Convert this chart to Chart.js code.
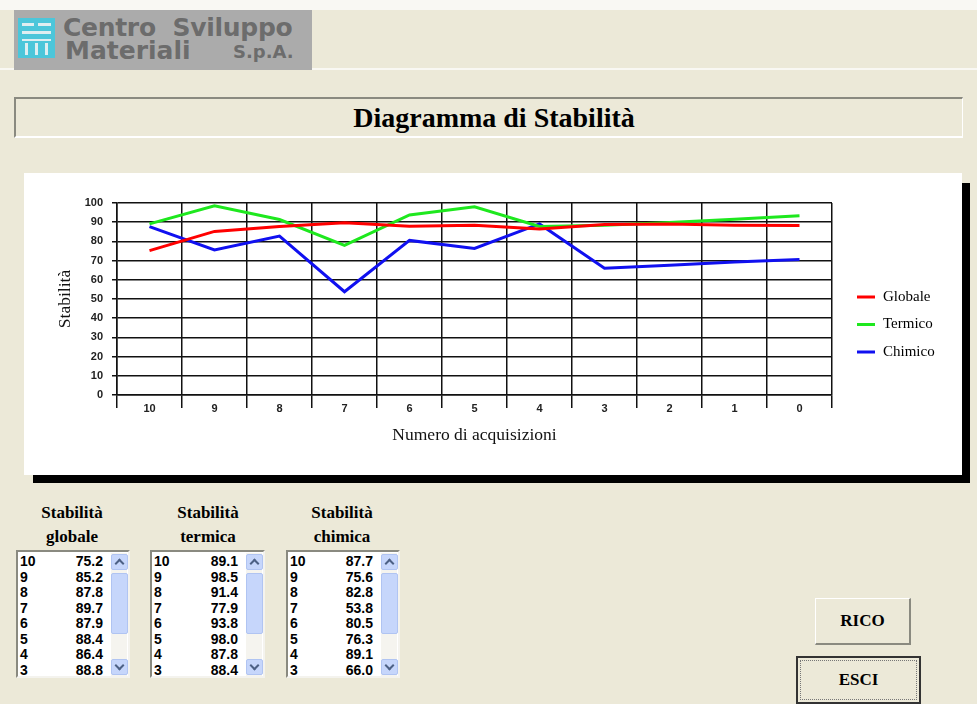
<!DOCTYPE html>
<html>
<head>
<meta charset="utf-8">
<script src="https://cdn.jsdelivr.net/npm/chart.js@4.4.1/dist/chart.umd.min.js"></script>
<style>
  body { margin: 0; width: 977px; height: 704px; background: #ece9d8; position: relative; overflow: hidden; font-family: "Liberation Serif", serif; }
  .topstrip { position: absolute; left: 0; top: 0; width: 977px; height: 10px; background: #f9f8f3; }
  .topline { position: absolute; left: 0; top: 68px; width: 977px; height: 2px; background: #f9f8f3; }
  .logo { position: absolute; left: 14px; top: 10px; width: 298px; height: 60px; background: #ababab; }
  .icon { position: absolute; left: 4px; top: 8px; width: 37px; height: 40px; background: #4cc6da; }
  .icon span { position: absolute; background: #dfeef1; }
  .logo .t1, .logo .t2, .logo .t3 { position: absolute; font-family: "DejaVu Sans", sans-serif; font-weight: bold; color: #6c6c6c; white-space: nowrap; }
  .logo .t1 { left: 49px; top: 5px; font-size: 25px; line-height: 25px; letter-spacing: -0.3px; }
  .logo .t2 { left: 51px; top: 28px; font-size: 25px; line-height: 25px; }
  .logo .t3 { left: 219px; top: 33px; font-size: 18px; line-height: 18px; }
  .titlebox { position: absolute; left: 14px; top: 97px; width: 946px; height: 37px; border-top: 2px solid #8a8a80; border-left: 2px solid #8a8a80; border-right: 1px solid #fff; border-bottom: 2px solid #fff; }
  .titlebox div { text-align: center; font-weight: bold; font-size: 28px; line-height: 37px; padding-left: 10px; }
  .shadow-r { position: absolute; left: 962px; top: 183px; width: 8px; height: 300px; background: #000; }
  .shadow-b { position: absolute; left: 33px; top: 475px; width: 937px; height: 8px; background: #000; }
  .panel { position: absolute; left: 24px; top: 173px; width: 938px; height: 302px; background: #fff; }
  .head { position: absolute; width: 130px; text-align: center; font-weight: bold; font-size: 17px; line-height: 24px; }
  .list { position: absolute; top: 550px; height: 124px; background: #fff; border: 2px solid #8a8a80; border-right-color: #f4f3ee; border-bottom-color: #f4f3ee; overflow: hidden; }
  .rows { position: absolute; left: 2px; top: 2px; }
  .row { position: relative; height: 15.5px; font-family: "Liberation Sans", Arial, sans-serif; font-weight: bold; font-size: 14px; line-height: 15.5px; }
  .row .k { position: absolute; left: 0; }
  .row .v { position: absolute; right: 0; }
  .sb { position: absolute; right: 1px; top: 1px; width: 16px; bottom: 0; background: #f5f4ef; }
  .sb .up, .sb .dn, .sb .th { position: absolute; left: 0; width: 15px; background: #c6d6fb; border: 1px solid #b0c4f2; border-radius: 2px; }
  .sb .up { top: 1px; height: 14px; }
  .sb .dn { bottom: 1px; height: 14px; }
  .sb .th { top: 20px; height: 59px; }
  .sb .up::after, .sb .dn::after { content: ""; position: absolute; left: 4px; width: 5px; height: 5px; border-left: 2px solid #4d6185; border-top: 2px solid #4d6185; }
  .sb .up::after { top: 5px; transform: rotate(45deg); }
  .sb .dn::after { top: 2px; transform: rotate(225deg); }
  .btn { position: absolute; background: #ece9d8; font-weight: bold; font-size: 17px; text-align: center; }
  .rico { left: 815px; top: 598px; width: 93px; height: 44px; line-height: 44px; border-top: 1px solid #fff; border-left: 1px solid #fff; border-right: 2px solid #8a8a80; border-bottom: 2px solid #8a8a80; }
  .esci { left: 796px; top: 656px; width: 121px; height: 44px; line-height: 44px; border: 2px solid #333; outline: 1px dotted #777; outline-offset: -5px; }
</style>
</head>
<body>
<div class="topstrip"></div>
<div class="topline"></div>
<div class="logo">
  <div class="icon">
    <span style="left:4px;top:5px;width:12px;height:3px"></span>
    <span style="left:20px;top:5px;width:13px;height:3px"></span>
    <span style="left:4px;top:13px;width:29px;height:3px"></span>
    <span style="left:4px;top:21px;width:29px;height:2px"></span>
    <span style="left:7px;top:25px;width:3px;height:12px"></span>
    <span style="left:17px;top:25px;width:3px;height:12px"></span>
    <span style="left:27px;top:25px;width:3px;height:12px"></span>
  </div>
  <div class="t1">Centro&nbsp; Sviluppo</div>
  <div class="t2">Materiali</div>
  <div class="t3">S.p.A.</div>
</div>
<div class="titlebox"><div>Diagramma di Stabilità</div></div>
<div class="shadow-r"></div>
<div class="shadow-b"></div>
<div class="panel"><canvas id="chart" width="938" height="302"></canvas></div>

<div class="head" style="left:7px;top:501px">Stabilità<br>globale</div>
<div class="head" style="left:143px;top:501px">Stabilità<br>termica</div>
<div class="head" style="left:277px;top:501px">Stabilità<br>chimica</div>
<div class="list" id="list0" style="left:16px;width:110px"></div>
<div class="list" id="list1" style="left:150px;width:111px"></div>
<div class="list" id="list2" style="left:286px;width:110px"></div>

<div class="btn rico">RICO</div>
<div class="btn esci">ESCI</div>

<script>
const acquisizioni = ['10', '9', '8', '7', '6', '5', '4', '3', '2', '1', '0'];
const globale = [75.2, 85.2, 87.8, 89.7, 87.9, 88.4, 86.4, 88.8, 89.0, 88.4, 88.3];
const termico = [89.1, 98.5, 91.4, 77.9, 93.8, 98.0, 87.8, 88.4, 89.8, 91.6, 93.3];
const chimico = [87.7, 75.6, 82.8, 53.8, 80.5, 76.3, 89.1, 66.0, 67.6, 69.3, 70.6];
const seriesNames = ['Globale', 'Termico', 'Chimico'];
const seriesColors = ['#ff0000', '#1ee81e', '#1010f0'];

// list boxes under the chart
[globale, termico, chimico].forEach((values, n) => {
  var box = document.getElementById('list' + n);
  var html = '<div class="rows" style="width:' + (box.clientWidth - 27) + 'px">';
  values.forEach((v, i) => {
    html += '<div class="row"><span class="k">' + acquisizioni[i] + '</span><span class="v">' + v.toFixed(1) + '</span></div>';
  });
  html += '</div><div class="sb"><div class="up"></div><div class="th"></div><div class="dn"></div></div>';
  box.innerHTML = html;
});

// legend on the right of the plot, drawn by hand like the original
const sideLegend = {
  id: 'sideLegend',
  afterDraw(chart) {
    var ctx = chart.ctx;
    var area = chart.chartArea;
    var mid = (area.top + area.bottom) / 2;
    ctx.save();
    ctx.font = '15px "Liberation Serif"';
    ctx.textBaseline = 'middle';
    chart.data.datasets.forEach((ds, i) => {
      var y = mid - 2 + i * 27.5;
      ctx.strokeStyle = ds.borderColor;
      ctx.lineWidth = 3;
      ctx.beginPath();
      ctx.moveTo(area.right + 25, y);
      ctx.lineTo(area.right + 43, y);
      ctx.stroke();
      ctx.fillStyle = '#000';
      ctx.fillText(ds.label, area.right + 51, y);
    });
    ctx.restore();
  }
};

var ctx = document.getElementById('chart').getContext('2d');
var chart = new Chart(ctx, {
  type: 'line',
  data: {
    labels: acquisizioni,
    datasets: [globale, termico, chimico].map((d, i) => ({
      label: seriesNames[i],
      data: d,
      borderColor: seriesColors[i],
      borderWidth: 3,
      pointRadius: 0,
      tension: 0,
    }))
  },
  options: {
    responsive: false,
    animation: false,
    layout: { padding: { left: 0, top: 30, right: 130, bottom: 0 } },
    plugins: { legend: { display: false }, tooltip: { enabled: false } },
    scales: {
      x: {
        offset: true,
        grid: { offset: true, color: '#111', lineWidth: 1.5, tickLength: 13, tickColor: '#111' },
        border: { color: '#111', width: 1.5 },
        ticks: { color: '#222', font: { family: 'Liberation Sans', size: 11, weight: 'bold' }, padding: -6, maxRotation: 0 },
        title: { display: true, text: 'Numero di acquisizioni', color: '#111', font: { family: 'Liberation Serif', size: 17.5 }, padding: { top: 0, bottom: 29.5 } },
        afterFit(scale) { scale.height = 80; }
      },
      y: {
        min: 0,
        max: 100,
        ticks: { stepSize: 10, color: '#222', font: { family: 'Liberation Sans', size: 11, weight: 'bold' }, padding: 9 },
        grid: { color: '#111', lineWidth: 1.5, tickLength: 5, tickColor: '#111' },
        border: { color: '#111', width: 1.5 },
        title: { display: true, text: 'Stabilità', color: '#111', font: { family: 'Liberation Serif', size: 17.5 }, padding: { top: 30.5, bottom: 0 } },
        afterFit(scale) { scale.width = 93; }
      }
    }
  },
  plugins: [sideLegend]
});
</script>
</body>
</html>
